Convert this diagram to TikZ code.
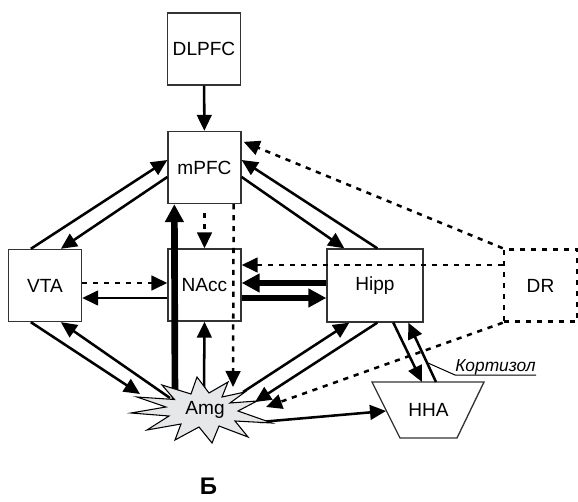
\documentclass[tikz,border=0pt]{standalone}
\usepackage{fontspec}
\setmainfont{Liberation Sans}
\usetikzlibrary{arrows.meta,calc}
\newcommand{\lblfont}{\fontsize{14.3}{16}\selectfont}
\tikzset{
  box/.style={draw=black!80, line width=1pt, minimum width=54.75pt,
    minimum height=54pt, inner sep=0pt, font=\lblfont},
  con/.style={line width=1.9pt, -{Triangle[length=12pt,width=11pt]}},
  dcon/.style={con, dash pattern=on 3.9pt off 4.3pt},
  tcon/.style={line width=5pt, -{Triangle[length=13.5pt,width=13.5pt]}},
  plain/.style={line width=0.75pt}
}
\definecolor{amgfill}{HTML}{E6E7E9}
\begin{document}
\begin{tikzpicture}[x=0.75pt,y=-0.75pt]
\useasboundingbox (0,0) rectangle (578,502);

% regions
\node[box] (DLPFC) at (204,49) {DLPFC};
\node[box] (mPFC) at (204.5,167.5) {mPFC};
\node[box] (VTA) at (45,285.5) {VTA};
\node[box] (NAcc) at (204.5,285) {NAcc};
\node[box, minimum width=72pt, minimum height=54.75pt] (Hipp) at (375,285.5) {Hipp};
\node[box, draw=black, line width=1.9pt, dash pattern=on 3.9pt off 4.3pt] (DR) at (540.5,285.5) {DR};

% HHA trapezoid
\draw[line width=1pt, draw=black!80] (372,382) -- (484,382) -- (457,438) -- (400,438) -- cycle;
\node[font=\lblfont] (HHA) at (428.5,410) {HHA};

% Amg centre
\coordinate (Amg) at (205,410);

% connections
\draw[con] (DLPFC) -- (mPFC);
\draw[con] ($(VTA.north west)+(23,0)$) -- ($(mPFC.west)+(0,-7.5)$);
\draw[con] ($(mPFC.west)+(0,9.5)$) -- ($(VTA.north west)+(53,0)$);
\draw[dcon] ($(mPFC.south)+(0,9)$) -- (NAcc.north);
\draw[dcon] ($(mPFC.south east)+(-8,0)$) -- ($(Amg)+(28,-23)$);
\draw[dcon] ($(VTA.east)+(0,-2.5)$) -- ($(NAcc.west)+(0,-2)$);
\draw[con] ($(NAcc.west)+(0,13)$) -- ($(VTA.east)+(0,12.5)$);
\draw[tcon] ($(Hipp.west)+(0,-2.5)$) -- ($(NAcc.east)+(0,-2)$);
\draw[tcon] ($(NAcc.east)+(0,13)$) -- ($(Hipp.west)+(0,12.5)$);
\draw[dcon] ($(DR.west)+(0,-20.5)$) -- ($(NAcc.east)+(0,-20)$);
\draw[dcon] (DR.north west) -- ($(mPFC.north east)+(2,11)$);
\draw[con] ($(mPFC.east)+(0,9.5)$) -- ($(Hipp.north west)+(18,0)$);
\draw[con] ($(Hipp.north west)+(51,0)$) -- ($(mPFC.east)+(0,-7.5)$);
\draw[tcon] ($(Amg)+(-30,-5)$) -- ($(mPFC.south west)+(7,0)$);
\draw[con] ($(Amg)+(-1,-20)$) -- (NAcc.south);
\draw[con] ($(VTA.south west)+(23,0)$) -- ($(Amg)+(-65,-16)$);
\draw[con] ($(Amg)+(-35,-12)$) -- ($(VTA.south west)+(53,0)$);
\draw[con] ($(Amg)+(38,-18)$) -- ($(Hipp.south west)+(23,0)$);
\draw[con] ($(Hipp.south west)+(51,0)$) -- ($(Amg)+(50,-8)$);
\draw[dcon] (DR.south west) -- ($(Amg)+(61,-3)$);
\draw[con] ($(Amg)+(55,12)$) -- ($(HHA)+(-42.5,1)$);
\draw[con] ($(Hipp.south west)+(67,0)$) -- ($(HHA)+(-6.5,-28)$);
\draw[con] ($(HHA)+(7.5,-28)$) -- ($(Hipp.south west)+(82,0)$);

% Amg starburst
\filldraw[fill=amgfill, draw=black, line width=0.8pt]
  (131,413) -- (166,407) -- (137,397) -- (174.5,399.5) -- (162,385) -- (191,394)
  -- (197,377) -- (209,393) -- (228,382) -- (222,397) -- (245,392) -- (230,403)
  -- (257,401) -- (238,411) -- (272,423) -- (235,421) -- (248,437) -- (219,426)
  -- (212,443) -- (199,427) -- (175,440) -- (181,424) -- (147,430) -- (169,416)
  -- cycle;
\node[font=\lblfont] (AmgLabel) at (Amg) {Amg};

% cortisol label with leader
\coordinate (kt) at (428,363);
\node[font=\itshape\fontsize{13}{15}\selectfont, anchor=base west, inner sep=0pt] (kort) at (455,371) {Кортизол};
\draw[plain] (kt) -- ($(kort.base west)+(0,4)$) -- ($(kort.base east)+(0,4)$);

% panel letter
\node[font=\bfseries\fontsize{18}{22}\selectfont] (panel) at (208.5,486.5) {Б};
\end{tikzpicture}
\end{document}
